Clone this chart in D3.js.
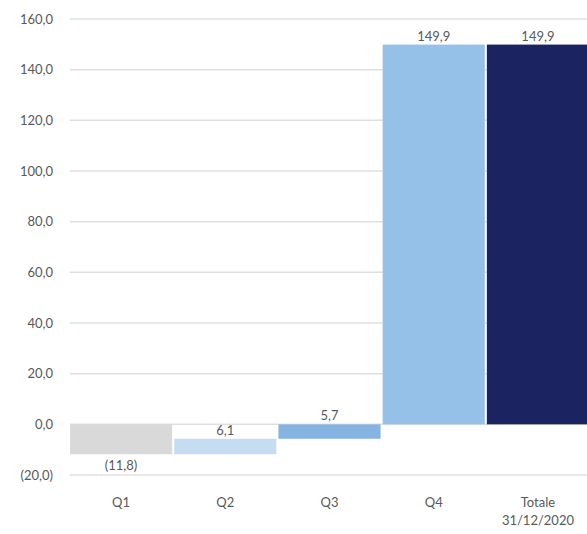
<!DOCTYPE html>
<html><head><meta charset="utf-8">
<script src="https://cdn.jsdelivr.net/npm/d3@7"></script>
<style>body{margin:0;background:#fff}svg{display:block}text{font-family:"Lato",sans-serif;fill:#595959}</style>
</head><body><svg id="c" width="587" height="534"></svg>
<script>
const categories = ["Q1","Q2","Q3","Q4","Totale\n31/12/2020"];
const deltas = [-11.8, 6.1, 5.7, 149.9, 149.9];
const isTotal = [false,false,false,false,true];
const labels = ["(11,8)","6,1","5,7","149,9","149,9"];
const colors = ["#d9d9d9","#c6dcf3","#86b4e2","#95c1e9","#1b2461"];
const yTicks = [-20,0,20,40,60,80,100,120,140,160];
const yTickLabels = ["(20,0)","0,0","20,0","40,0","60,0","80,0","100,0","120,0","140,0","160,0"];

const svg = d3.select("#c");
const y = d3.scaleLinear().domain([-20,160]).range([475,19]);
const x = d3.scaleBand().domain(categories).range([70,589]).paddingInner(0.02).paddingOuter(0);

// grid
svg.append("g").selectAll("line").data(yTicks).join("line")
  .attr("x1",70).attr("x2",587).attr("y1",d=>y(d)).attr("y2",d=>y(d))
  .attr("stroke","#e0e0e0").attr("stroke-width",1.5);
svg.append("g").selectAll("text").data(yTicks).join("text")
  .attr("x",53).attr("y",d=>y(d)).attr("dy","0.35em").attr("text-anchor","end")
  .attr("font-size",13).text((d,i)=>yTickLabels[i]);

// waterfall
let run = 0;
const bars = deltas.map((d,i)=>{
  let a,b;
  if(isTotal[i]){a=0;b=d;} else {a=run;b=run+d;run=b;}
  return {cat:categories[i],lo:Math.min(a,b),hi:Math.max(a,b),v:d,end:b,i};
});
svg.append("g").selectAll("rect").data(bars).join("rect")
  .attr("x",d=>x(d.cat)).attr("width",x.bandwidth())
  .attr("y",d=>y(d.hi)).attr("height",d=>y(d.lo)-y(d.hi))
  .attr("fill",(d,i)=>colors[i]);

svg.append("g").selectAll("text").data(bars).join("text")
  .attr("x",d=>x(d.cat)+x.bandwidth()/2)
  .attr("y",d=>d.v<0 ? y(d.lo)+6 : y(d.hi)-4)
  .attr("dy",d=>d.v<0?"0.75em":"0")
  .attr("text-anchor","middle").attr("font-size",13)
  .text((d,i)=>labels[i]);

// x labels
const xl = svg.append("g").selectAll("text").data(categories).join("text")
  .attr("x",d=>x(d)+x.bandwidth()/2).attr("y",507)
  .attr("text-anchor","middle").attr("font-size",13);
xl.selectAll("tspan").data(d=>d.split("\n")).join("tspan")
  .attr("x",function(){return this.parentNode.getAttribute("x");})
  .attr("dy",(d,i)=>i?"1.35em":0).text(d=>d);
</script></body></html>
